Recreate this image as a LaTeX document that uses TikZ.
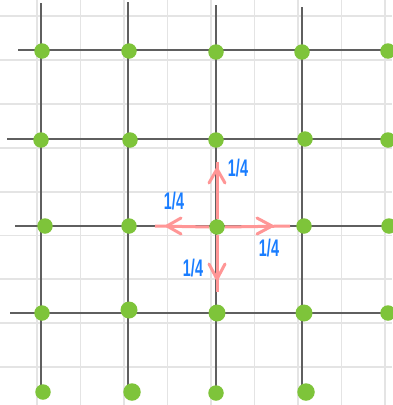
\documentclass[tikz,border=0pt]{standalone}
\usepackage{fontspec}
\setmainfont{Liberation Sans}
\usepackage{graphicx}
\definecolor{bggrid}{RGB}{228,228,228}
\definecolor{linegray}{RGB}{95,95,95}
\definecolor{dotgreen}{RGB}{126,196,58}
\definecolor{arrowpink}{RGB}{255,150,150}
\definecolor{labelblue}{RGB}{25,125,255}
\tikzset{
  bgline/.style={draw=bggrid, line width=1.1pt},
  darkline/.style={draw=linegray, line width=2pt,
    postaction={draw=linegray, line width=2.8pt, dash pattern=on 0.6pt off 13.9pt}},
  gdot/.style={circle, fill=dotgreen, inner sep=0pt, minimum size=15.5pt},
  pinkshaft/.style={draw=arrowpink, line width=3pt},
  pinkhead/.style={draw=arrowpink, line width=3pt, line cap=round, line join=round},
  lbl/.style={text=labelblue, font=\bfseries\fontsize{16}{16}\selectfont, inner sep=0pt}
}
\newcommand{\quarterlbl}{\scalebox{0.9}[1.5]{1/4}}
\begin{document}
\begin{tikzpicture}[x=1pt, y=-1pt]
\useasboundingbox (0,0) rectangle (392,405);
\fill[white] (0,0) rectangle (392,405);
% background grid
\foreach \x in {37,80.5,124,167.5,211,254.5,298,341.5,385}
  \draw[bgline] (\x,0) -- (\x,405);
\foreach \y in {16,60,104,148,192,235.5,279,323,367}
  \draw[bgline] (0,\y) -- (392,\y);
% dark lattice lines
\draw[darkline] (18,50) -- (392,50);
\draw[darkline] (7,139) -- (392,139);
\draw[darkline] (15,226) -- (392,226);
\draw[darkline] (10,313) -- (392,313);
\draw[darkline] (41,3) -- (41,393);
\draw[darkline] (128,2) -- (128,393);
\draw[darkline] (216,5) -- (216,393);
\draw[darkline] (302,7) -- (302,393);
% dots
\node[gdot] (a1) at (42,51) {};
\node[gdot] (a2) at (129,51) {};
\node[gdot] (a3) at (216,52) {};
\node[gdot] (a4) at (302,52) {};
\node[gdot] (a5) at (388,51) {};
\node[gdot] (b1) at (41,140) {};
\node[gdot] (b2) at (130,140) {};
\node[gdot] (b3) at (216,140) {};
\node[gdot] (b4) at (305,139) {};
\node[gdot] (b5) at (388,140) {};
\node[gdot] (c1) at (45,226) {};
\node[gdot] (c2) at (129,226) {};
\node[gdot] (c3) at (217,227) {};
\node[gdot] (c4) at (304,226) {};
\node[gdot] (c5) at (389,226) {};
\node[gdot] (d1) at (42,313) {};
\node[gdot, minimum width=17pt, minimum height=16pt] (d2) at (129,310) {};
\node[gdot, minimum width=17pt] (d3) at (217,313) {};
\node[gdot, minimum width=17pt] (d4) at (304,313) {};
\node[gdot] (d5) at (388,313) {};
\node[gdot] (e1) at (43,392) {};
\node[gdot, minimum width=17.5pt] (e2) at (132,392) {};
\node[gdot] (e3) at (216,393) {};
\node[gdot, minimum width=17.5pt] (e4) at (306,392) {};
% arrows from centre node c3
\coordinate (uEnd) at (217,162);
\coordinate (lEnd) at (155,226);
\coordinate (rEnd) at (290,226);
\coordinate (dEnd) at (217,292);
\draw[pinkshaft] (c3.north) -- (uEnd);
\draw[pinkshaft] (c3.west) -- (lEnd);
\draw[pinkshaft] (c3.east) -- (rEnd);
\draw[pinkshaft] (c3.south) -- (dEnd);
% arrow heads (open chevrons)
\draw[pinkhead] (209,183) -- (217,169) -- (225,183);
\draw[pinkhead] (181,218) -- (167,226) -- (181,234);
\draw[pinkhead] (257,218) -- (272,226) -- (257,234);
\draw[pinkhead] (209,264) -- (217,279) -- (225,264);
% labels
\node[lbl] (lu) at (238,168) {\quarterlbl};
\node[lbl] (ll) at (174,201) {\quarterlbl};
\node[lbl] (lr) at (269,248) {\quarterlbl};
\node[lbl] (ld) at (193,268) {\quarterlbl};
\end{tikzpicture}
\end{document}
